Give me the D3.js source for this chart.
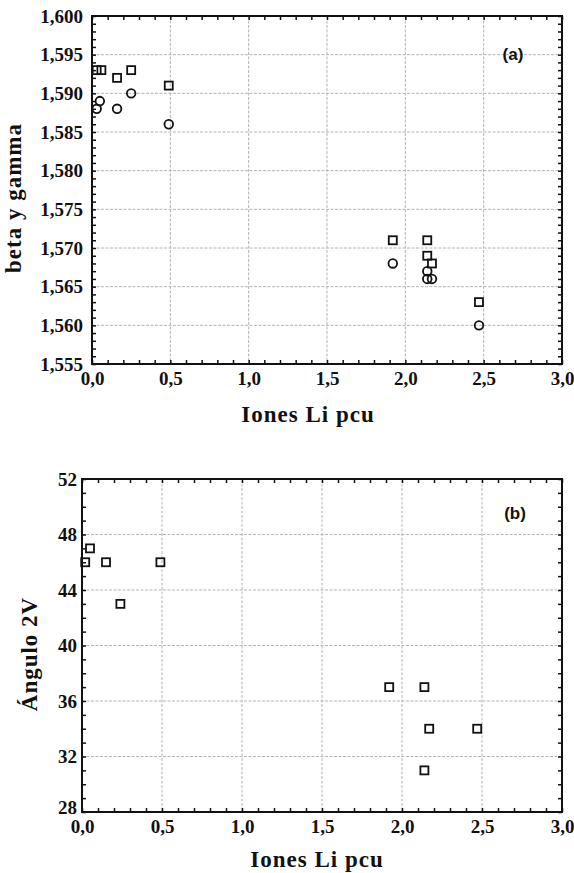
<!DOCTYPE html>
<html>
<head>
<meta charset="utf-8">
<script src="https://d3js.org/d3.v7.min.js"></script>
<style>
  body { margin: 0; background: #fff; }
</style>
</head>
<body>
<div id="chart"></div>
<script>
// Data
//=================================
// panel (a): gamma = squares, beta = circles
var liGamma = [0.03, 0.06, 0.16, 0.25, 0.49, 1.92, 2.14, 2.14, 2.17, 2.47];
var gammaVals = [1.593, 1.593, 1.592, 1.593, 1.591, 1.571, 1.571, 1.569, 1.568, 1.563];
var liBeta = [0.03, 0.05, 0.16, 0.25, 0.49, 1.92, 2.14, 2.14, 2.17, 2.47];
var betaVals = [1.588, 1.589, 1.588, 1.590, 1.586, 1.568, 1.567, 1.566, 1.566, 1.560];

// panel (b): 2V angle
var li2V = [0.02, 0.05, 0.15, 0.24, 0.49, 1.92, 2.14, 2.17, 2.47, 2.14];
var angle2V = [46, 47, 46, 43, 46, 37, 37, 34, 34, 31];

var xTicks = [0, 0.5, 1.0, 1.5, 2.0, 2.5, 3.0];
var yTicksA = [1.555, 1.560, 1.565, 1.570, 1.575, 1.580, 1.585, 1.590, 1.595, 1.600];
var yTicksB = [28, 32, 36, 40, 44, 48, 52];

var svgWidth = 574;
var svgHeight = 873;

var svg = d3.select("#chart")
  .append("svg")
  .attr("width", svgWidth)
  .attr("height", svgHeight);

var serif = "'Liberation Serif', 'Times New Roman', serif";

// comma decimal formats
function commaFmt(digits) {
  return function(v) { return d3.format("." + digits + "f")(v).replace(".", ","); };
}

// draw one panel
function drawPanel(p) {
  var x = d3.scaleLinear().domain([0, 3]).range([p.left, p.right]);
  var y = d3.scaleLinear().domain(p.yDomain).range([p.bottom, p.top]);

  var g = svg.append("g");

  // gridlines
  g.append("g").selectAll("line")
    .data(xTicks.slice(1, -1))
    .enter()
    .append("line")
    .attr("x1", d => x(d)).attr("x2", d => x(d))
    .attr("y1", p.top).attr("y2", p.bottom)
    .attr("stroke", "#b4b4b4")
    .attr("stroke-width", 1)
    .attr("stroke-dasharray", "3,1.5");

  g.append("g").selectAll("line")
    .data(p.yTicks.slice(1, -1))
    .enter()
    .append("line")
    .attr("x1", p.left).attr("x2", p.right)
    .attr("y1", d => y(d)).attr("y2", d => y(d))
    .attr("stroke", "#b4b4b4")
    .attr("stroke-width", 1)
    .attr("stroke-dasharray", "3,1.5");

  // minor ticks, inward on all four sides
  var xMinor = d3.range(0, 31).map(i => i / 10);
  var yMinor = d3.range(0, p.yMinorCount + 1).map(i => p.yDomain[0] + i * p.yMinorStep);

  var tickAxes = [
    [d3.axisBottom(x), `translate(0,${p.bottom})`, xMinor],
    [d3.axisTop(x), `translate(0,${p.top})`, xMinor],
    [d3.axisLeft(y), `translate(${p.left},0)`, yMinor],
    [d3.axisRight(y), `translate(${p.right},0)`, yMinor]
  ];
  tickAxes.forEach(function(a) {
    var ax = g.append("g")
      .attr("transform", a[1])
      .call(a[0].tickValues(a[2]).tickSize(-4).tickFormat(""));
    ax.select(".domain").remove();
    ax.selectAll("line").attr("stroke", "#111").attr("stroke-width", 1.5);
  });

  // tick labels
  var xLab = g.append("g")
    .attr("transform", `translate(0,${p.bottom})`)
    .attr("font-family", serif)
    .call(d3.axisBottom(x).tickValues(xTicks).tickSize(0).tickPadding(p.xPad).tickFormat(commaFmt(1)));
  xLab.select(".domain").remove();
  xLab.selectAll("text")
    .style("font-family", serif).style("font-weight", "bold").style("font-size", "19px")
    .attr("fill", "#111");

  var yLab = g.append("g")
    .attr("transform", `translate(${p.left},0)`)
    .call(d3.axisLeft(y).tickValues(p.yTicks).tickSize(0).tickPadding(p.yPad).tickFormat(p.yFmt));
  yLab.select(".domain").remove();
  yLab.selectAll("text")
    .style("font-family", serif).style("font-weight", "bold").style("font-size", "19px")
    .attr("fill", "#111");
  // lowest label sits a little above the corner
  yLab.selectAll("text").filter(d => d === p.yDomain[0])
    .attr("transform", `translate(0,${-p.lowLift})`);

  // frame
  g.append("rect")
    .attr("x", p.left).attr("y", p.top)
    .attr("width", p.right - p.left).attr("height", p.bottom - p.top)
    .attr("fill", "none")
    .attr("stroke", "#111")
    .attr("stroke-width", 2);

  // axis titles
  g.append("text")
    .attr("x", p.xTitleX).attr("y", p.xTitleY)
    .attr("text-anchor", "middle")
    .style("font-family", serif).style("font-weight", "bold").style("font-size", "23px")
    .style("letter-spacing", "1px")
    .attr("fill", "#111")
    .text("Iones Li pcu");

  g.append("text")
    .attr("transform", `translate(${p.yTitleX},${p.yTitleY}) rotate(-90)`)
    .attr("text-anchor", "middle")
    .style("font-family", serif).style("font-weight", "bold").style("font-size", "23px")
    .style("letter-spacing", "1px")
    .attr("fill", "#111")
    .text(p.yTitle);

  // panel letter
  g.append("text")
    .attr("x", p.tagX).attr("y", p.tagY)
    .attr("text-anchor", "middle")
    .style("font-family", "'Liberation Sans', Arial, sans-serif").style("font-weight", "bold").style("font-size", "17px")
    .attr("fill", "#111")
    .text(p.tag);

  return { x: x, y: y, g: g };
}

// panel (a)
var a = drawPanel({
  left: 92, right: 562, top: 16, bottom: 364,
  yDomain: [1.555, 1.600], yTicks: yTicksA, yMinorCount: 45, yMinorStep: 0.001,
  yFmt: commaFmt(3), xPad: 8, yPad: 9, lowLift: 0,
  xTitleX: 308, xTitleY: 422, yTitleX: 21, yTitleY: 198, yTitle: "beta y gamma",
  tag: "(a)", tagX: 513, tagY: 60
});

// panel (b)
var b = drawPanel({
  left: 82, right: 562, top: 479, bottom: 812,
  yDomain: [28, 52], yTicks: yTicksB, yMinorCount: 24, yMinorStep: 1,
  yFmt: d3.format("d"), xPad: 8, yPad: 5, lowLift: 5,
  xTitleX: 317, xTitleY: 867, yTitleX: 37, yTitleY: 654, yTitle: "Ángulo 2V",
  tag: "(b)", tagX: 515, tagY: 519
});

// markers
function squares(panel, xs, ys) {
  panel.g.append("g").selectAll("rect")
    .data(xs)
    .enter()
    .append("rect")
    .attr("x", (d, i) => panel.x(d) - 4)
    .attr("y", (d, i) => panel.y(ys[i]) - 4)
    .attr("width", 8).attr("height", 8)
    .attr("fill", "none")
    .attr("stroke", "#111")
    .attr("stroke-width", 1.8);
}

function circles(panel, xs, ys) {
  panel.g.append("g").selectAll("circle")
    .data(xs)
    .enter()
    .append("circle")
    .attr("cx", (d, i) => panel.x(d))
    .attr("cy", (d, i) => panel.y(ys[i]))
    .attr("r", 4.3)
    .attr("fill", "none")
    .attr("stroke", "#111")
    .attr("stroke-width", 1.8);
}

squares(a, liGamma, gammaVals);
circles(a, liBeta, betaVals);
squares(b, li2V, angle2V);
</script>
</body>
</html>
